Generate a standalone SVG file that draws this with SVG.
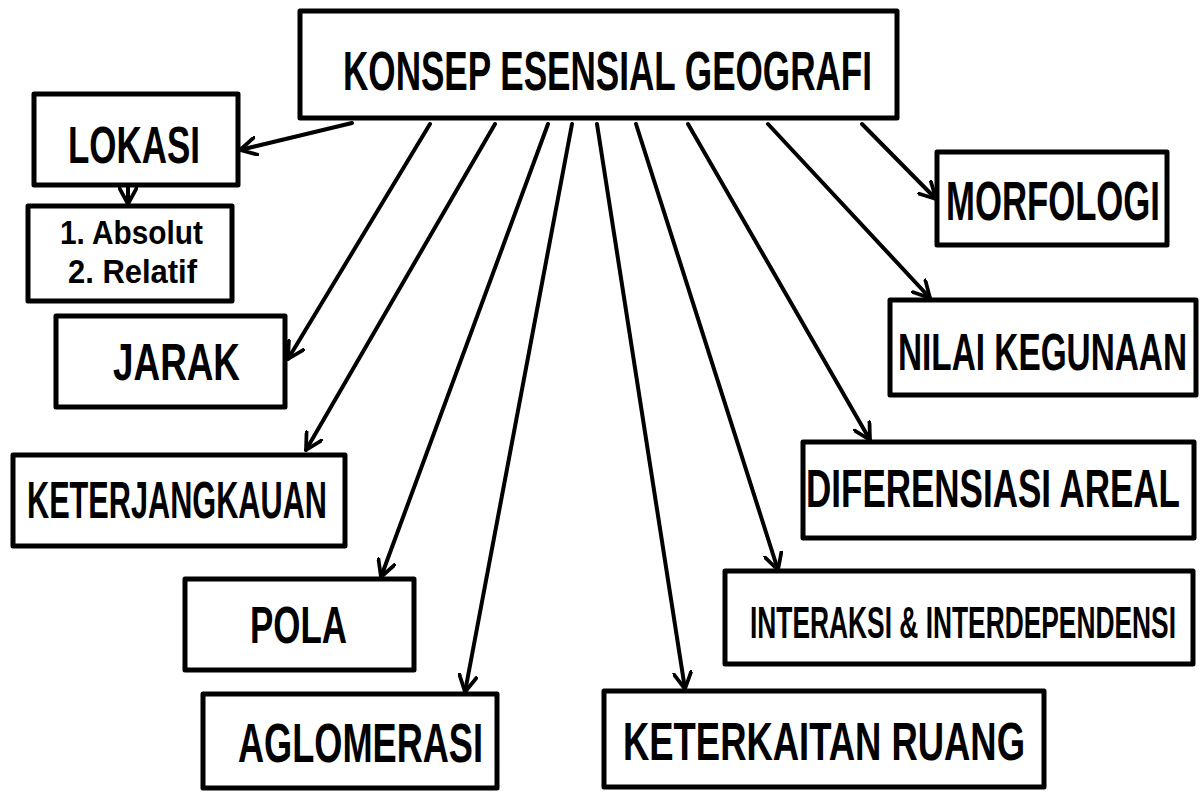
<svg xmlns="http://www.w3.org/2000/svg" width="1200" height="800" viewBox="0 0 1200 800">
<style>
.box{fill:#fff;stroke:#000;stroke-width:5;stroke-linejoin:round}
.t{font-family:"Liberation Sans",Arial,sans-serif;font-weight:bold;fill:#000}
.c{stroke:#000;stroke-width:4;fill:none;stroke-linecap:round}
</style>
<defs>
<marker id="ah" markerUnits="userSpaceOnUse" markerWidth="20" markerHeight="20" viewBox="0 0 16 16" refX="14" refY="8" orient="auto">
<path d="M1,1 L14,8 L1,15" fill="none" stroke="#000" stroke-width="3" stroke-linecap="round" stroke-linejoin="round"/>
</marker>
</defs>
<rect width="1200" height="800" fill="#fff"/>
<g id="connectors">
<line class="c" x1="352" y1="123" x2="240" y2="150" marker-end="url(#ah)"/>
<line class="c" x1="128" y1="186" x2="128" y2="204" marker-end="url(#ah)"/>
<line class="c" x1="430" y1="124" x2="288" y2="359" marker-end="url(#ah)"/>
<line class="c" x1="495" y1="124" x2="306" y2="450" marker-end="url(#ah)"/>
<line class="c" x1="548" y1="124" x2="381" y2="577" marker-end="url(#ah)"/>
<line class="c" x1="572" y1="124" x2="465" y2="692" marker-end="url(#ah)"/>
<line class="c" x1="597" y1="124" x2="685" y2="689" marker-end="url(#ah)"/>
<line class="c" x1="636" y1="124" x2="778" y2="570" marker-end="url(#ah)"/>
<line class="c" x1="688" y1="124" x2="870" y2="440" marker-end="url(#ah)"/>
<line class="c" x1="768" y1="124" x2="930" y2="298" marker-end="url(#ah)"/>
<line class="c" x1="862" y1="124" x2="936" y2="199" marker-end="url(#ah)"/>
</g>
<g id="konsep">
<rect class="box" x="300" y="11" width="597" height="107"/>
<text class="t" x="343" y="90" font-size="56" textLength="529" lengthAdjust="spacingAndGlyphs">KONSEP ESENSIAL GEOGRAFI</text>
</g>
<g id="lokasi">
<rect class="box" x="34" y="94" width="204" height="91"/>
<text class="t" x="68" y="163" font-size="52" textLength="132" lengthAdjust="spacingAndGlyphs">LOKASI</text>
</g>
<g id="lokasi-jenis">
<rect class="box" x="28" y="206" width="204" height="95"/>
<text class="t" x="60" y="244" font-size="34" textLength="143" lengthAdjust="spacingAndGlyphs">1. Absolut</text>
<text class="t" x="68" y="283" font-size="34" textLength="129" lengthAdjust="spacingAndGlyphs">2. Relatif</text>
</g>
<g id="jarak">
<rect class="box" x="56" y="316" width="229" height="91"/>
<text class="t" x="113" y="380" font-size="52" textLength="127" lengthAdjust="spacingAndGlyphs">JARAK</text>
</g>
<g id="keterjangkauan">
<rect class="box" x="13" y="455" width="332" height="91"/>
<text class="t" x="27" y="518" font-size="52" textLength="300" lengthAdjust="spacingAndGlyphs">KETERJANGKAUAN</text>
</g>
<g id="pola">
<rect class="box" x="185" y="579" width="229" height="91"/>
<text class="t" x="250" y="643" font-size="52" textLength="97" lengthAdjust="spacingAndGlyphs">POLA</text>
</g>
<g id="aglomerasi">
<rect class="box" x="203" y="694" width="294" height="94"/>
<text class="t" x="238" y="762" font-size="56" textLength="245" lengthAdjust="spacingAndGlyphs">AGLOMERASI</text>
</g>
<g id="keterkaitan">
<rect class="box" x="604" y="691" width="440" height="96"/>
<text class="t" x="623" y="760" font-size="54" textLength="402" lengthAdjust="spacingAndGlyphs">KETERKAITAN RUANG</text>
</g>
<g id="interaksi">
<rect class="box" x="725" y="571" width="468" height="93"/>
<text class="t" x="750" y="638" font-size="44" textLength="426" lengthAdjust="spacingAndGlyphs">INTERAKSI &amp; INTERDEPENDENSI</text>
</g>
<g id="diferensiasi">
<rect class="box" x="803" y="442" width="391" height="96"/>
<text class="t" x="806" y="507" font-size="54" textLength="374" lengthAdjust="spacingAndGlyphs">DIFERENSIASI AREAL</text>
</g>
<g id="nilai">
<rect class="box" x="890" y="300" width="306" height="95"/>
<text class="t" x="898" y="370" font-size="52" textLength="289" lengthAdjust="spacingAndGlyphs">NILAI KEGUNAAN</text>
</g>
<g id="morfologi">
<rect class="box" x="937" y="152" width="230" height="93"/>
<text class="t" x="946" y="220" font-size="56" textLength="214" lengthAdjust="spacingAndGlyphs">MORFOLOGI</text>
</g>
</svg>
